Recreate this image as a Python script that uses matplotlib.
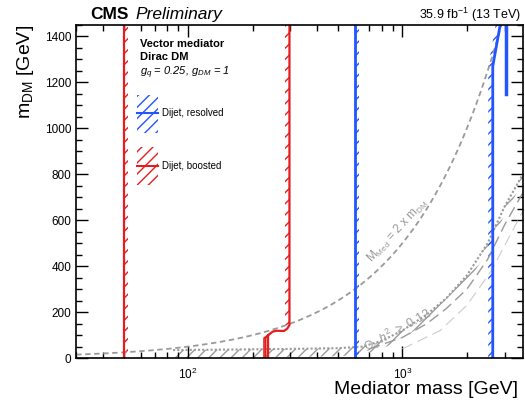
import numpy as np
import matplotlib
matplotlib.use("Agg")
import matplotlib.pyplot as plt
from matplotlib.patches import Rectangle
from matplotlib.ticker import MultipleLocator, NullFormatter, LogLocator

plt.rcParams['font.family'] = ['Liberation Sans', 'DejaVu Sans']
plt.rcParams['mathtext.fontset'] = 'custom'
plt.rcParams['mathtext.rm'] = 'Liberation Sans'
plt.rcParams['mathtext.it'] = 'Liberation Sans:italic'
plt.rcParams['mathtext.bf'] = 'Liberation Sans:bold'
plt.rcParams['hatch.linewidth'] = 1.0

RED = '#e41e1e'
BLUE = '#2255ff'
GREY = '#9a9a9a'

# boosted dijet (red) contour pieces
boost_left_M = [50, 50]
boost_left_m = [0, 1450]
boost_right_M = [297, 297, 290, 280, 258, 248, 236, 236]
boost_right_m = [1450, 144, 128, 118, 119, 115, 100, 0]
boost_strand1_M = [230, 230, 240]
boost_strand1_m = [0, 87, 105]
boost_strand2_M = [226, 226, 236]
boost_strand2_m = [0, 87, 100]

# resolved dijet (blue) contour pieces
res_left_M = [600, 600]
res_left_m = [0, 1450]
res_right_M = [2640, 2640, 2860]
res_right_m = [0, 1270, 1450]
res_island_M = [3060, 3060]
res_island_m = [1450, 1150]

# M_med = 2 x m_DM
diag_M = np.geomspace(30, 3650, 200)
diag_m = diag_M / 2

# relic density curves
relic_M = [85, 150, 300, 500, 650, 800, 1000, 1300, 1600, 2000, 2500, 3000, 3650]
relic_m = [35, 37, 40, 43, 50, 75, 120, 190, 260, 360, 500, 660, 800]
relic2_M = [700, 1000, 1300, 1600, 2000, 2500, 3000, 3650]
relic2_m = [40, 90, 150, 215, 300, 430, 580, 720]
relic3_M = [1000, 1500, 2000, 2600, 3650]
relic3_m = [40, 120, 230, 380, 640]

fig = plt.figure(figsize=(5.25, 4.01), dpi=100)
ax = fig.add_axes([0.145, 0.107, 0.851, 0.831])


def strip(ax, M, m, side, color, f=1.05):
    M = np.asarray(M, float)
    other = M * f if side == 'right' else M / f
    ax.fill_betweenx(m, M, other, facecolor='none', edgecolor=color,
                     hatch='///', linewidth=0)


# relic hatch + lines
rM = np.array(relic_M, float)
rm = np.array(relic_m, float)
ax.fill_between(rM, np.clip(rm - 35, 0, None), rm, facecolor='none',
                edgecolor=GREY, hatch='///', linewidth=0)
ax.plot(rM, rm, color=GREY, lw=1.5, ls=(0, (1, 1)))
ax.plot(relic2_M, relic2_m, color=GREY, lw=1.0, ls=(0, (8, 4)))
ax.plot(relic3_M, relic3_m, color='#cccccc', lw=0.8, ls=(0, (10, 5)))

# diagonal
ax.plot(diag_M, diag_m, color=GREY, lw=1.3, ls=(0, (3, 2)))

# red
strip(ax, boost_left_M, boost_left_m, 'right', RED)
strip(ax, boost_right_M[:2], boost_right_m[:2], 'left', RED)
ax.plot(boost_left_M, boost_left_m, color=RED, lw=1.6)
ax.plot(boost_right_M, boost_right_m, color=RED, lw=1.6)
ax.plot(boost_strand1_M, boost_strand1_m, color=RED, lw=1.2)
ax.plot(boost_strand2_M, boost_strand2_m, color=RED, lw=1.2)

# blue
strip(ax, res_left_M, res_left_m, 'right', BLUE)
strip(ax, res_right_M, res_right_m, 'left', BLUE)
ax.plot(res_left_M, res_left_m, color=BLUE, lw=2)
ax.plot(res_right_M, res_right_m, color=BLUE, lw=2)
ax.plot(res_island_M, res_island_m, color=BLUE, lw=2.5)

ax.set_xscale('log')
ax.set_xlim(30, 3650)
ax.set_ylim(0, 1450)
ax.yaxis.set_major_locator(MultipleLocator(200))
ax.yaxis.set_minor_locator(MultipleLocator(50))
ax.xaxis.set_minor_locator(LogLocator(subs=np.arange(2, 10)))
ax.xaxis.set_minor_formatter(NullFormatter())
ax.tick_params(which='both', direction='in', top=True, right=True, labelsize=8.5)
ax.tick_params(axis='x', pad=6)
ax.tick_params(which='major', length=8.6, width=1)
ax.tick_params(which='minor', length=4.3, width=1)
for s in ax.spines.values():
    s.set_linewidth(1.2)

# texts
ax.text(0.143, 0.943, 'Vector mediator', transform=ax.transAxes,
        fontsize=8, fontweight='bold', va='center')
ax.text(0.143, 0.905, 'Dirac DM', transform=ax.transAxes,
        fontsize=8, fontweight='bold', va='center')
ax.text(0.143, 0.856, r'$g_{q}$ = 0.25, $g_{DM}$ = 1', transform=ax.transAxes,
        fontsize=8, style='italic', va='center')

ax.text(950, 555, r'M$_{\rm Med}$ = 2 x m$_{\rm DM}$', color=GREY, fontsize=8.5,
        rotation=47, ha='center', va='center')
ax.text(950, 122, r'$\Omega_{c}\ h^{2}$ $\geq$ 0.12', color=GREY, fontsize=9,
        rotation=29, ha='center', va='center')

# legend drawn by hand
for col, ybox, yline, lab in [(BLUE, 0.6756, 0.7356, 'Dijet, resolved'),
                              (RED, 0.5195, 0.5766, 'Dijet, boosted')]:
    ax.add_patch(Rectangle((0.1365, ybox), 0.047, 0.114, transform=ax.transAxes,
                           facecolor='none', edgecolor=col, hatch='///', lw=0))
    ax.plot([0.1365, 0.1835], [yline, yline], color=col, lw=1.5,
            transform=ax.transAxes)
    ax.text(0.1925, yline, lab, transform=ax.transAxes, fontsize=7, va='center')

fig.text(0.171, 0.953, 'CMS', fontsize=12.5, fontweight='bold')
fig.text(0.258, 0.953, 'Preliminary', fontsize=12.5, style='italic')
fig.text(0.993, 0.953, r'35.9 fb$^{-1}$ (13 TeV)', fontsize=9, ha='right')
fig.text(0.987, 0.0175, 'Mediator mass [GeV]', fontsize=14, ha='right')
fig.text(0.048, 0.938, r'm$_{\rm DM}$ [GeV]', fontsize=14, rotation=90,
         ha='center', va='top')

fig.savefig('out.png', dpi=100)
